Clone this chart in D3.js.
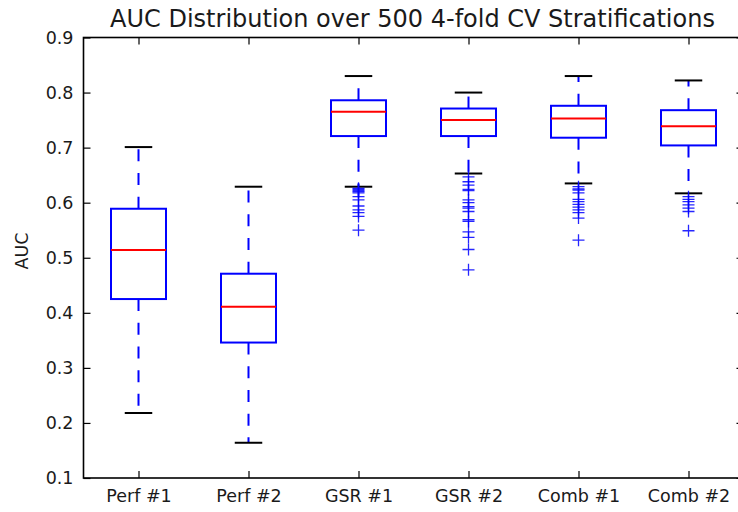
<!DOCTYPE html>
<html>
<head>
<meta charset="utf-8">
<script src="https://cdn.jsdelivr.net/npm/d3@7"></script>
<style>
  html, body { margin: 0; padding: 0; background: #fff; }
  svg { display: block; font-family: "DejaVu Sans", sans-serif; }
</style>
</head>
<body>
<svg id="chart" width="738" height="512"></svg>
<script>
const categories = ["Perf #1", "Perf #2", "GSR #1", "GSR #2", "Comb #1", "Comb #2"];
const whiskerLow  = [0.218, 0.164, 0.629, 0.653, 0.635, 0.617];
const q1          = [0.425, 0.346, 0.721, 0.721, 0.718, 0.704];
const median      = [0.514, 0.411, 0.765, 0.750, 0.753, 0.739];
const q3          = [0.589, 0.471, 0.786, 0.771, 0.776, 0.768];
const whiskerHigh = [0.701, 0.629, 0.830, 0.800, 0.830, 0.822];
const outliers = [
  [],
  [],
  [0.626, 0.624, 0.622, 0.620, 0.618, 0.611, 0.605, 0.594, 0.587, 0.582, 0.575, 0.550],
  [0.647, 0.638, 0.632, 0.624, 0.622, 0.605, 0.600, 0.593, 0.590, 0.584, 0.569, 0.566, 0.547, 0.537, 0.515, 0.478],
  [0.629, 0.625, 0.623, 0.618, 0.606, 0.602, 0.597, 0.592, 0.587, 0.582, 0.572, 0.532],
  [0.611, 0.606, 0.602, 0.596, 0.590, 0.584, 0.549]
];
const yTicks = [0.1, 0.2, 0.3, 0.4, 0.5, 0.6, 0.7, 0.8, 0.9];
const titleText = "AUC Distribution over 500 4-fold CV Stratifications";
const yLabelText = "AUC";

(function () {
const svg = d3.select("#chart");
const mLeft = 83.5, mRight = 743.5, mTop = 37.5, mBottom = 478;

const x = d3.scaleLinear().domain([0.5, categories.length + 0.5]).range([mLeft, mRight]);
const y = d3.scaleLinear().domain([0.1, 0.9]).range([mBottom, mTop]);
const pos = categories.map((c, i) => i + 1);

const fontSize = 17.5;

const yAxis = d3.axisLeft(y).tickValues(yTicks).tickFormat(d3.format(".1f")).tickSizeInner(-7).tickSizeOuter(0).tickPadding(10);
const gy = svg.append("g").attr("transform", `translate(${mLeft},0)`).call(yAxis);
const yAxisR = d3.axisRight(y).tickValues(yTicks).tickFormat("").tickSizeInner(-7).tickSizeOuter(0);
const gyr = svg.append("g").attr("transform", `translate(${mRight},0)`).call(yAxisR);
const xAxis = d3.axisBottom(x).tickValues(pos).tickFormat((d) => categories[d - 1]).tickSizeInner(-7).tickSizeOuter(0).tickPadding(12);
const gx = svg.append("g").attr("transform", `translate(0,${mBottom})`).call(xAxis);
const xAxisT = d3.axisTop(x).tickValues(pos).tickFormat("").tickSizeInner(-7).tickSizeOuter(0);
const gxt = svg.append("g").attr("transform", `translate(0,${mTop})`).call(xAxisT);

[gy, gyr, gx, gxt].forEach(g => {
  g.select(".domain").remove();
  g.selectAll(".tick line").attr("stroke", "#000").attr("stroke-width", 1.2);
  g.selectAll(".tick text").attr("font-size", fontSize).attr("font-family", "DejaVu Sans").attr("fill", "#1a1a1a");
});

const boxHalf = 0.25, capHalf = 0.125;
const gb = svg.append("g");
categories.forEach((c, i) => {
  const p = pos[i];
  gb.append("line").attr("x1", x(p)).attr("x2", x(p)).attr("y1", y(q3[i])).attr("y2", y(whiskerHigh[i]))
    .attr("stroke", "#0000ff").attr("stroke-width", 2).attr("stroke-dasharray", "12,11.7");
  gb.append("line").attr("x1", x(p)).attr("x2", x(p)).attr("y1", y(q1[i])).attr("y2", y(whiskerLow[i]))
    .attr("stroke", "#0000ff").attr("stroke-width", 2).attr("stroke-dasharray", "12,11.7");
  [whiskerHigh[i], whiskerLow[i]].forEach(v => {
    gb.append("line").attr("x1", x(p - capHalf)).attr("x2", x(p + capHalf)).attr("y1", y(v)).attr("y2", y(v))
      .attr("stroke", "#000").attr("stroke-width", 2);
  });
  gb.append("rect").attr("x", x(p - boxHalf)).attr("y", y(q3[i]))
    .attr("width", x(p + boxHalf) - x(p - boxHalf)).attr("height", y(q1[i]) - y(q3[i]))
    .attr("fill", "none").attr("stroke", "#0000ff").attr("stroke-width", 2);
  gb.append("line").attr("x1", x(p - boxHalf)).attr("x2", x(p + boxHalf)).attr("y1", y(median[i])).attr("y2", y(median[i]))
    .attr("stroke", "#ff0000").attr("stroke-width", 2);
  outliers[i].forEach(v => {
    const cx = x(p), cy = y(v), s = 6;
    gb.append("path").attr("d", `M${cx - s},${cy}H${cx + s}M${cx},${cy - s}V${cy + s}`)
      .attr("stroke", "#0000ff").attr("stroke-width", 1.3).attr("fill", "none").attr("opacity", 0.85);
  });
});

svg.append("rect").attr("x", mLeft).attr("y", mTop).attr("width", mRight - mLeft).attr("height", mBottom - mTop)
  .attr("fill", "none").attr("stroke", "#000").attr("stroke-width", 1.6);

svg.append("text").attr("x", 412.5).attr("y", 27).attr("text-anchor", "middle")
  .attr("font-size", 24).attr("fill", "#1a1a1a").text(titleText);

svg.append("text").attr("transform", `translate(28,251) rotate(-90)`).attr("text-anchor", "middle")
  .attr("font-size", fontSize).attr("fill", "#1a1a1a").text(yLabelText);
})();
</script>
</body>
</html>
